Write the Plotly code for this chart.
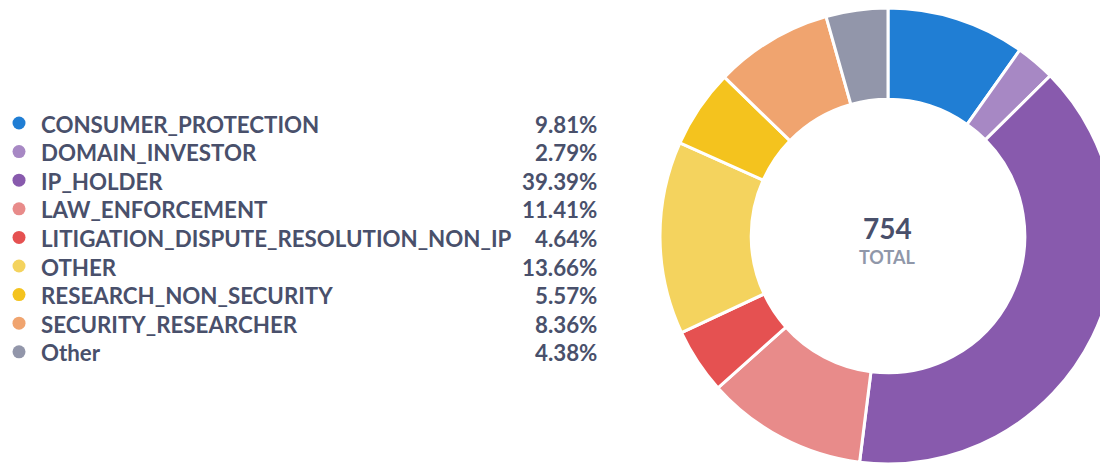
import plotly.graph_objects as go

# reporter categories and counts (754 total)
categories = [
    "CONSUMER_PROTECTION", "DOMAIN_INVESTOR", "IP_HOLDER", "LAW_ENFORCEMENT",
    "LITIGATION_DISPUTE_RESOLUTION_NON_IP", "OTHER", "RESEARCH_NON_SECURITY",
    "SECURITY_RESEARCHER", "Other",
]
counts = [74, 21, 297, 86, 35, 103, 42, 63, 33]
percent_labels = ["9.81%", "2.79%", "39.39%", "11.41%", "4.64%", "13.66%", "5.57%", "8.36%", "4.38%"]
colors = ["#207ed4", "#a788c4", "#885aad", "#e88b8a", "#e55151",
          "#f4d35e", "#f4c31e", "#f0a46f", "#9296aa"]

W, H = 1108, 466
off = 8  # the page body margin pushes the figure 8px right/down
text_color = "#49506b"
total = sum(counts)

fig = go.Figure()

# donut, centre ~ (888, 236) on the page, radius 228 (runs off the right edge)
fig.add_trace(go.Pie(
    labels=categories,
    values=counts,
    hole=0.6,
    sort=False,
    direction="clockwise",
    rotation=0,
    marker=dict(colors=colors, line=dict(color="white", width=3)),
    textinfo="none",
    showlegend=False,
    domain=dict(x=[652 / W, 1.0], y=[10 / H, 1.0]),
))

# custom legend: dot markers on a hidden pixel-space axis, then label + percentage
row0, row_gap = 124, 28.6
rows = [row0 - off + i * row_gap for i in range(len(categories))]

fig.add_trace(go.Scatter(
    x=[19 - off] * len(categories), y=[r - 1 for r in rows], mode="markers",
    marker=dict(size=13, color=colors, line=dict(width=0)),
    hoverinfo="skip", showlegend=False, cliponaxis=False,
))

for cat, pct, yrow in zip(categories, percent_labels, rows):
    ypos = 1 - yrow / H
    fig.add_annotation(x=31 / W, y=ypos, xref="paper", yref="paper", text=cat,
                       showarrow=False, xanchor="left", yanchor="middle",
                       font=dict(size=22.3, color=text_color, family="Lato", weight=700))
    fig.add_annotation(x=591 / W, y=ypos, xref="paper", yref="paper", text=pct,
                       showarrow=False, xanchor="right", yanchor="middle",
                       font=dict(size=22.3, color=text_color, family="Lato", weight=700))

# centre text
fig.add_annotation(x=879 / W, y=1 - (228 - off) / H, xref="paper", yref="paper", text=str(total),
                   showarrow=False, xanchor="center", yanchor="middle",
                   font=dict(size=28, color=text_color, family="Lato", weight=700))
fig.add_annotation(x=879 / W, y=1 - (257 - off) / H, xref="paper", yref="paper", text="TOTAL",
                   showarrow=False, xanchor="center", yanchor="middle",
                   font=dict(size=18, color="#9097a9", family="Lato", weight=700))

fig.update_layout(
    width=W, height=H,
    margin=dict(l=0, r=0, t=0, b=0),
    paper_bgcolor="white",
    plot_bgcolor="white",
    font=dict(family="Lato"),
    xaxis=dict(range=[0, W], domain=[0, 1], visible=False, fixedrange=True),
    yaxis=dict(range=[H, 0], domain=[0, 1], visible=False, fixedrange=True),
)

fig.write_html("out.html")
